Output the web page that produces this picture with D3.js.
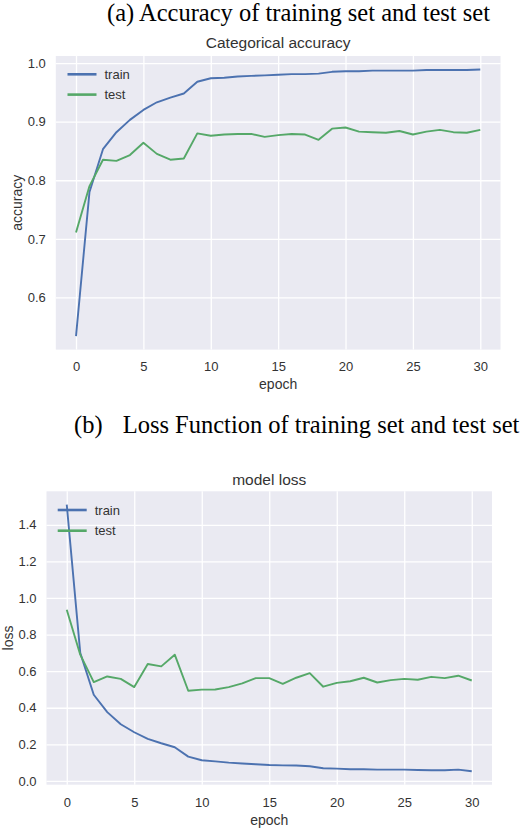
<!DOCTYPE html>
<html>
<head>
<meta charset="utf-8">
<script src="https://cdn.jsdelivr.net/npm/d3@7"></script>
<style>
  html, body { margin: 0; padding: 0; background: #fff; }
  svg { display: block; }
  text { font-family: "Liberation Sans", Arial, sans-serif; fill: #333; }
  .caption { font-family: "Liberation Serif", "Times New Roman", serif; fill: #000; }
</style>
</head>
<body>
<svg id="chart" width="530" height="828"></svg>
<script>
// ---- data ----
const epochs = [0,1,2,3,4,5,6,7,8,9,10,11,12,13,14,15,16,17,18,19,20,21,22,23,24,25,26,27,28,29,30];

const accTrain = [0.534,0.780,0.853,0.882,0.903,0.920,0.933,0.941,0.948,0.968,0.974,0.975,0.977,0.978,0.979,0.980,0.981,0.981,0.982,0.985,0.986,0.986,0.987,0.987,0.987,0.987,0.988,0.988,0.988,0.988,0.989];
const accTest  = [0.711,0.790,0.835,0.833,0.843,0.864,0.845,0.835,0.837,0.880,0.876,0.878,0.879,0.879,0.874,0.877,0.879,0.878,0.869,0.888,0.890,0.883,0.882,0.881,0.884,0.878,0.883,0.886,0.882,0.881,0.886];

const lossTrain = [1.51,0.70,0.471,0.376,0.310,0.266,0.230,0.206,0.184,0.133,0.113,0.107,0.100,0.095,0.091,0.087,0.085,0.084,0.080,0.069,0.067,0.064,0.064,0.062,0.062,0.062,0.060,0.058,0.058,0.062,0.053];
const lossTest  = [0.936,0.690,0.540,0.571,0.558,0.513,0.639,0.626,0.690,0.493,0.499,0.500,0.513,0.533,0.562,0.562,0.531,0.564,0.589,0.515,0.536,0.545,0.564,0.538,0.551,0.558,0.553,0.569,0.562,0.575,0.549];

const epochTicks = [0,5,10,15,20,25,30];
const accTicks = [0.6,0.7,0.8,0.9,1.0];
const lossTicks = [0.0,0.2,0.4,0.6,0.8,1.0,1.2,1.4];
const seriesNames = ["train","test"];
const seriesColors = ["#4C72B0","#55A868"];

const svg = d3.select("#chart");

// captions
svg.append("text").attr("class","caption").attr("x",107).attr("y",21)
  .attr("font-size",24.5).text("(a) Accuracy of training set and test set");
svg.append("text").attr("class","caption").attr("x",74).attr("y",433)
  .attr("font-size",24.5).text("(b)");
svg.append("text").attr("class","caption").attr("x",122.7).attr("y",433)
  .attr("font-size",24.5).text("Loss Function of training set and test set");

function drawChart(cfg) {
  const x = d3.scaleLinear().domain([-1.5, 31.5]).range([cfg.left, cfg.right]);
  const y = d3.scaleLinear().domain(cfg.yDomain).range([cfg.bottom, cfg.top]);
  const g = svg.append("g");

  g.append("rect").attr("x", cfg.left).attr("y", cfg.top)
    .attr("width", cfg.right - cfg.left).attr("height", cfg.bottom - cfg.top)
    .attr("fill", "#EAEAF2");

  // grid
  g.append("g").attr("transform", `translate(0,${cfg.bottom})`)
    .call(d3.axisBottom(x).tickValues(epochTicks).tickSize(-(cfg.bottom - cfg.top)).tickFormat(""))
    .call(s => { s.select(".domain").remove(); s.selectAll("line").attr("stroke","#fff").attr("stroke-width",1.3); });
  g.append("g").attr("transform", `translate(${cfg.left},0)`)
    .call(d3.axisLeft(y).tickValues(cfg.yTicks).tickSize(-(cfg.right - cfg.left)).tickFormat(""))
    .call(s => { s.select(".domain").remove(); s.selectAll("line").attr("stroke","#fff").attr("stroke-width",1.3); });

  // tick labels
  g.append("g").attr("transform", `translate(0,${cfg.bottom})`)
    .call(d3.axisBottom(x).tickValues(epochTicks).tickSize(0).tickPadding(cfg.xPad).tickFormat(d3.format("d")))
    .call(s => { s.select(".domain").remove(); s.selectAll("text").attr("font-size",13).attr("font-family",null).attr("fill","#333"); });
  g.append("g").attr("transform", `translate(${cfg.left},0)`)
    .call(d3.axisLeft(y).tickValues(cfg.yTicks).tickSize(0).tickPadding(cfg.yPad).tickFormat(d3.format(".1f")))
    .call(s => { s.select(".domain").remove(); s.selectAll("text").attr("font-size",13).attr("font-family",null).attr("fill","#333"); });

  // lines
  const line = d3.line().x((d,i) => x(epochs[i])).y(d => y(d));
  cfg.series.forEach((vals, k) => {
    g.append("path").datum(vals).attr("d", line)
      .attr("fill","none").attr("stroke", seriesColors[k]).attr("stroke-width",1.9)
      .attr("stroke-linejoin","round");
  });

  // title & axis labels
  g.append("text").attr("x", (cfg.left + cfg.right) / 2).attr("y", cfg.titleY)
    .attr("text-anchor","middle").attr("font-size",15.5).text(cfg.title);
  g.append("text").attr("x", (cfg.left + cfg.right) / 2).attr("y", cfg.xLabelY)
    .attr("text-anchor","middle").attr("font-size",14).text("epoch");
  g.append("text").attr("transform", `translate(${cfg.yLabelX},${(cfg.top + cfg.bottom) / 2}) rotate(-90)`)
    .attr("text-anchor","middle").attr("font-size",14).text(cfg.yLabel);

  // legend
  seriesNames.forEach((name, k) => {
    const ly = cfg.legendY + k * cfg.legendGap;
    g.append("line").attr("x1", cfg.legendX).attr("x2", cfg.legendX + 29)
      .attr("y1", ly).attr("y2", ly).attr("stroke", seriesColors[k]).attr("stroke-width",2.6);
    g.append("text").attr("x", cfg.legendX + 37).attr("y", ly).attr("dy","0.35em")
      .attr("font-size",13).text(name);
  });
}

drawChart({
  left: 55.8, right: 500.5, top: 56, bottom: 349.6,
  yDomain: [0.511, 1.012], yTicks: accTicks,
  series: [accTrain, accTest],
  title: "Categorical accuracy", titleY: 48,
  yLabel: "accuracy", yLabelX: 22, xLabelY: 389,
  xPad: 12, yPad: 10,
  legendX: 67.5, legendY: 74.3, legendGap: 20.3
});

drawChart({
  left: 46.5, right: 492, top: 491.3, bottom: 784.7,
  yDomain: [-0.0206, 1.583], yTicks: lossTicks,
  series: [lossTrain, lossTest],
  title: "model loss", titleY: 485,
  yLabel: "loss", yLabelX: 12.5, xLabelY: 825,
  xPad: 13, yPad: 10,
  legendX: 57.7, legendY: 510, legendGap: 20.7
});
</script>
</body>
</html>
